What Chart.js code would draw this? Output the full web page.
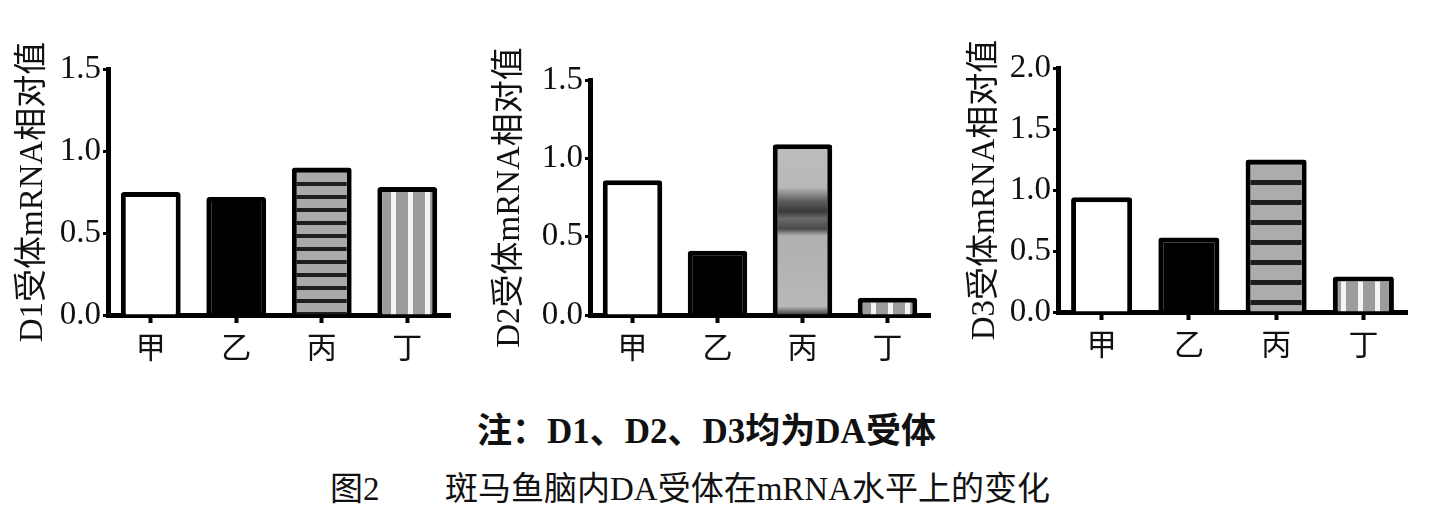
<!DOCTYPE html>
<html>
<head>
<meta charset="utf-8">
<script src="https://cdn.jsdelivr.net/npm/chart.js@4.4.1/dist/chart.umd.min.js"></script>
<style>
    html, body { margin: 0; padding: 0; background: #fff; }
    body { width: 1430px; height: 526px; position: relative; overflow: hidden; }
    .panel { position: absolute; top: 0; height: 400px; }
    .caption {
        position: absolute;
        font-family: "Liberation Serif", "Noto Sans CJK SC", serif;
        font-size: 33px;
        color: #111;
        white-space: nowrap;
        line-height: 1;
    }
</style>
</head>
<body>
<div class="panel" style="left:0px;width:470px"><canvas id="d1Chart"></canvas></div>
<div class="panel" style="left:480px;width:470px"><canvas id="d2Chart"></canvas></div>
<div class="panel" style="left:950px;width:480px"><canvas id="d3Chart"></canvas></div>

<div class="caption" id="note" style="left:477px;top:414px;font-size:35px;font-weight:bold">注：D1、D2、D3均为DA受体</div>
<div class="caption" style="left:330px;top:473px">图2</div>
<div class="caption" style="left:445px;top:473px">斑马鱼脑内DA受体在mRNA水平上的变化</div>

<script>
// Data
const categories = ['甲', '乙', '丙', '丁'];
const d1Values = [0.75, 0.72, 0.90, 0.78];
const d2Values = [0.86, 0.41, 1.09, 0.11];
const d3Values = [0.94, 0.61, 1.25, 0.29];
const d1TickMax = 1.5;
const d2TickMax = 1.5;
const d3TickMax = 2.0;
const tickStep = 0.5;

const serif = '"Liberation Serif", "Noto Sans CJK SC", serif';
const cjk = '"Noto Sans CJK SC", sans-serif';

// Fill patterns for the hatched bars
function stripePattern(horizontal, period, lineSize, base, line) {
    const c = document.createElement('canvas');
    c.width = horizontal ? 8 : period;
    c.height = horizontal ? period : 8;
    const g = c.getContext('2d');
    g.fillStyle = base;
    g.fillRect(0, 0, c.width, c.height);
    g.fillStyle = line;
    if (horizontal) g.fillRect(0, 0, c.width, lineSize);
    else g.fillRect(0, 0, lineSize, c.height);
    return g.createPattern(c, 'repeat');
}

const hStripes = stripePattern(true, 13, 4, '#a9a9a9', '#1e1e1e');
const hStripesWide = stripePattern(true, 20, 5, '#acacac', '#1e1e1e');
const vStripes = stripePattern(false, 17, 5, '#9c9c9c', '#f4f4f4');

// D2 丙 bar: mostly gray with a dark band in the middle
function d2BandFill(chart) {
    const y = chart.scales.y;
    const g = chart.ctx.createLinearGradient(0, y.getPixelForValue(0), 0, y.getPixelForValue(1.1));
    g.addColorStop(0, '#3a3a3a');
    g.addColorStop(0.05, '#b8b8b8');
    g.addColorStop(0.46, '#b0b0b0');
    g.addColorStop(0.50, '#4a4a4a');
    g.addColorStop(0.56, '#6a6a6a');
    g.addColorStop(0.60, '#3a3a3a');
    g.addColorStop(0.66, '#5c5c5c');
    g.addColorStop(0.70, '#8a8a8a');
    g.addColorStop(0.74, '#b8b8b8');
    g.addColorStop(1, '#bdbdbd');
    return g;
}

function makeChart(id, title, values, yMax, fills, box) {
    const ctx = document.getElementById(id).getContext('2d');
    return new Chart(ctx, {
        type: 'bar',
        data: {
            labels: categories,
            datasets: [{
                data: values,
                backgroundColor: (c) => {
                    const f = fills[c.dataIndex];
                    if (typeof f === 'function') {
                        return c.chart.chartArea ? f(c.chart) : '#b0b0b0';
                    }
                    return f;
                },
                borderColor: '#000',
                borderWidth: 5,
                borderRadius: 3,
                borderSkipped: 'start',
                barPercentage: 0.70,
                categoryPercentage: 1.0
            }]
        },
        options: {
            responsive: false,
            animation: false,
            devicePixelRatio: 1,
            layout: { padding: { top: box.top, right: box.right, left: 0, bottom: 0 } },
            plugins: { legend: { display: false }, tooltip: { enabled: false } },
            scales: {
                x: {
                    grid: {
                        display: true, drawOnChartArea: false, offset: false,
                        drawTicks: true, tickLength: 8, tickWidth: 4, tickColor: '#000'
                    },
                    border: { display: true, color: '#000', width: 5 },
                    ticks: { color: '#111', font: { family: cjk, size: 30 }, padding: 6 },
                    afterFit: (scale) => { scale.height = box.xHeight; }
                },
                y: {
                    min: 0,
                    max: yMax,
                    grid: {
                        display: true, drawOnChartArea: false,
                        drawTicks: true, tickLength: 5, tickWidth: 3, tickColor: '#000'
                    },
                    border: { display: true, color: '#000', width: 5 },
                    ticks: {
                        stepSize: tickStep,
                        color: '#111',
                        padding: 2,
                        font: { family: serif, size: 33 },
                        callback: (v) => v.toFixed(1)
                    },
                    title: {
                        display: true,
                        text: title,
                        color: '#111',
                        font: { family: serif, size: 33 },
                        padding: { top: box.titlePad, bottom: 0 }
                    },
                    afterFit: (scale) => { scale.width = box.yWidth; }
                }
            }
        }
    });
}

function sizeCanvas(id, w, h) {
    const c = document.getElementById(id);
    c.width = w; c.height = h;
    c.style.width = w + 'px'; c.style.height = h + 'px';
}
sizeCanvas('d1Chart', 470, 400);
sizeCanvas('d2Chart', 470, 400);
sizeCanvas('d3Chart', 480, 400);

makeChart('d1Chart', 'D1受体mRNA相对值', d1Values, d1TickMax,
    ['#ffffff', '#000000', hStripes, vStripes],
    { top: 69, right: 20, xHeight: 85, yWidth: 108, titlePad: 14 });

const d2 = makeChart('d2Chart', 'D2受体mRNA相对值', d2Values, d2TickMax,
    ['#ffffff', '#000000', d2BandFill, vStripes],
    { top: 80, right: 20, xHeight: 85, yWidth: 110, titlePad: 11 });
d2.update('none');

makeChart('d3Chart', 'D3受体mRNA相对值', d3Values, d3TickMax,
    ['#ffffff', '#000000', hStripesWide, vStripes],
    { top: 68, right: 23, xHeight: 88, yWidth: 108, titlePad: 16 });
</script>
</body>
</html>
